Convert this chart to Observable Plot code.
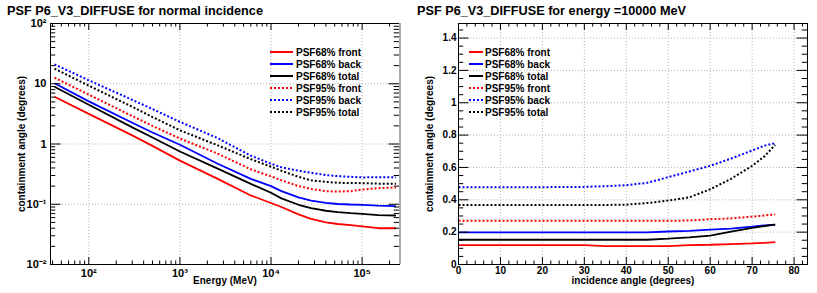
<!DOCTYPE html>
<html><head><meta charset="utf-8">
<script src="https://cdn.jsdelivr.net/npm/d3@7"></script>
<script src="https://cdn.jsdelivr.net/npm/@observablehq/plot@0.6"></script>
<style>
body{margin:0;background:#fff}
#root{position:relative;width:817px;height:293px;overflow:hidden;background:#fff}
.panel{position:absolute;top:0}
#overlay{position:absolute;left:0;top:0;pointer-events:none}
</style></head><body><div id="root"></div>
<script>
// ---------------- data ----------------
const seriesNames = ["PSF68% front","PSF68% back","PSF68% total","PSF95% front","PSF95% back","PSF95% total"];

// Left panel: containment angle vs energy (normal incidence)
const energyMeV = [42, 100, 300, 500, 1000, 2600, 6000, 10000, 13000, 20000, 27500, 40000, 54000, 75000, 100000, 150000, 235000];
const e68front = [6.1, 3.16, 1.39, 0.93, 0.53, 0.264, 0.14, 0.105, 0.09, 0.068, 0.057, 0.050, 0.047, 0.045, 0.043, 0.040, 0.040];
const e68back  = [10.2, 5.1, 2.25, 1.55, 0.97, 0.47, 0.264, 0.2, 0.165, 0.13, 0.115, 0.105, 0.101, 0.099, 0.098, 0.095, 0.093];
const e68total = [8.9, 4.47, 1.89, 1.28, 0.75, 0.39, 0.218, 0.155, 0.125, 0.098, 0.086, 0.078, 0.074, 0.071, 0.069, 0.066, 0.065];
const e95front = [12.6, 6.6, 2.9, 2.0, 1.23, 0.69, 0.38, 0.29, 0.25, 0.2, 0.18, 0.165, 0.162, 0.165, 0.175, 0.185, 0.19];
const e95back  = [21, 11.4, 5.4, 3.8, 2.33, 1.25, 0.64, 0.47, 0.41, 0.36, 0.333, 0.305, 0.293, 0.285, 0.279, 0.28, 0.28];
const e95total = [17.8, 9.3, 4.15, 2.8, 1.69, 0.95, 0.56, 0.42, 0.36, 0.285, 0.25, 0.235, 0.227, 0.225, 0.224, 0.22, 0.218];

// Right panel: containment angle vs incidence angle (E = 10000 MeV)
const incAngle = [0, 10, 20, 30, 35, 40, 45, 50, 55, 60, 65, 70, 73, 75.5];
const a68front = [0.12, 0.12, 0.12, 0.12, 0.113, 0.113, 0.113, 0.113, 0.12, 0.122, 0.126, 0.13, 0.134, 0.138];
const a68back  = [0.198, 0.198, 0.198, 0.198, 0.198, 0.198, 0.198, 0.204, 0.208, 0.215, 0.222, 0.234, 0.242, 0.247];
const a68total = [0.153, 0.153, 0.153, 0.153, 0.153, 0.153, 0.153, 0.16, 0.168, 0.179, 0.203, 0.226, 0.238, 0.247];
const a95front = [0.27, 0.27, 0.27, 0.27, 0.27, 0.27, 0.27, 0.27, 0.272, 0.28, 0.285, 0.296, 0.303, 0.31];
const a95back  = [0.478, 0.478, 0.478, 0.48, 0.484, 0.49, 0.505, 0.54, 0.575, 0.61, 0.655, 0.705, 0.735, 0.75];
const a95total = [0.368, 0.368, 0.368, 0.368, 0.368, 0.37, 0.38, 0.395, 0.415, 0.465, 0.53, 0.61, 0.67, 0.74];

// axes
const energyDomain = [38, 257000];
const energyTicks = [100, 1000, 10000, 100000];
const energyTickLabels = ["10\u00B2", "10\u00B3", "10\u2074", "10\u2075"];
const psfDomain = [0.01, 100];
const psfTicks = [0.01, 0.1, 1, 10, 100];
const psfTickLabels = ["10\u207B\u00B2", "10\u207B\u00B9", "1", "10", "10\u00B2"];
const angleDomain = [0, 83.2];
const angleTicks = [0, 10, 20, 30, 40, 50, 60, 70, 80];
const angleTickLabels = ["0", "10", "20", "30", "40", "50", "60", "70", "80"];
const contDomain = [0, 1.49];
const contTicks = [0, 0.2, 0.4, 0.6, 0.8, 1, 1.2, 1.4];
const contTickLabels = ["0", "0.2", "0.4", "0.6", "0.8", "1", "1.2", "1.4"];

const titles = ["PSF P6_V3_DIFFUSE for normal incidence", "PSF P6_V3_DIFFUSE for energy =10000 MeV"];
const xTitles = ["Energy (MeV)", "incidence angle (degrees)"];
const yTitle = "containment angle (degrees)";

// ---------------- styles ----------------
const FONT = "'Liberation Sans', Arial, Helvetica, sans-serif";
const colors = ["#ff0000", "#0000ff", "#000000", "#ff0000", "#0000ff", "#000000"];
const dashes = [null, null, null, "2,2", "2,2", "2,2"];

function logMinor(lo, hi) {
  const out = [];
  for (let p = Math.floor(Math.log10(lo)); p <= Math.ceil(Math.log10(hi)); p++)
    for (let k = 2; k <= 9; k++) { const v = k * 10 ** p; if (v > lo && v < hi) out.push(v); }
  return out;
}
function linMinor(lo, hi, step) {
  const out = [];
  for (let i = Math.ceil(lo / step); i * step < hi; i++) out.push(+(i * step).toFixed(6));
  return out;
}

function frameTicks(xMaj, xMin, yMaj, yMin, W, H, xLen, yLen) {
  const s = {stroke: "#000", strokeWidth: 1};
  return [
    Plot.tickX(xMaj, {x: d => d, insetTop: H - xLen, ...s}),
    Plot.tickX(xMaj, {x: d => d, insetBottom: H - xLen, ...s}),
    Plot.tickX(xMin, {x: d => d, insetTop: H - xLen / 2, ...s}),
    Plot.tickX(xMin, {x: d => d, insetBottom: H - xLen / 2, ...s}),
    Plot.tickY(yMaj, {y: d => d, insetRight: W - yLen, ...s}),
    Plot.tickY(yMaj, {y: d => d, insetLeft: W - yLen, ...s}),
    Plot.tickY(yMin, {y: d => d, insetRight: W - yLen / 2, ...s}),
    Plot.tickY(yMin, {y: d => d, insetLeft: W - yLen / 2, ...s})
  ];
}

function seriesLines(xs, ys) {
  return ys.map((vals, i) => Plot.line(xs.map((x, j) => ({x, y: vals[j]})), {
    x: "x", y: "y", stroke: colors[i], strokeWidth: i < 3 ? 1.8 : 2,
    strokeDasharray: dashes[i] || undefined, strokeLinecap: "butt", strokeLinejoin: "miter", curve: "linear"
  }));
}

const grid = {stroke: "#b4b4b4", strokeOpacity: 1, strokeDasharray: "1,2", strokeWidth: 1};
const txt = {fontSize: 10, fontWeight: "bold"};

// ---------------- left panel ----------------
const L = {width: 410, height: 293, ml: 50, mr: 11, mt: 23, mb: 29};
const LW = L.width - L.ml - L.mr, LH = L.height - L.mt - L.mb;
const eMinor = logMinor(energyDomain[0], energyDomain[1]);
const pMinor = logMinor(psfDomain[0], psfDomain[1]);
const eLab = new Map(energyTicks.map((d, i) => [d, energyTickLabels[i]]));
const pLab = new Map(psfTicks.map((d, i) => [d, psfTickLabels[i]]));

const left = Plot.plot({
  width: L.width, height: L.height,
  marginLeft: L.ml, marginRight: L.mr, marginTop: L.mt, marginBottom: L.mb,
  style: {fontFamily: FONT, fontWeight: "bold", fontSize: "10px", background: "transparent", overflow: "visible"},
  x: {type: "log", domain: energyDomain},
  y: {type: "log", domain: psfDomain},
  marks: [
    Plot.gridX(energyTicks, grid),
    Plot.gridY(psfTicks.slice(1, -1), grid),
    ...seriesLines(energyMeV, [e68front, e68back, e68total, e95front, e95back, e95total]),
    ...frameTicks(energyTicks, eMinor, psfTicks, pMinor, LW, LH, 7, 10.5),
    Plot.frame({stroke: "#000"}),
    Plot.ruleX([energyDomain[1]], {stroke: "#aaaaaa", strokeWidth: 2, dx: 0.5}),
    Plot.axisX(energyTicks, {tickSize: 0, tickPadding: 5, tickFormat: d => eLab.get(d), label: null, fontSize: 11, fontWeight: "bold"}),
    Plot.axisY(psfTicks, {tickSize: 0, tickPadding: 4, tickFormat: d => pLab.get(d), label: null, fontSize: 11, fontWeight: "bold"}),
    Plot.text([xTitles[0]], {text: d => d, frameAnchor: "bottom", dy: 19, ...txt}),
    Plot.text([yTitle], {text: d => d, frameAnchor: "left", textAnchor: "middle", rotate: -90, dx: -29, ...txt})
  ]
});

// ---------------- right panel ----------------
const R = {width: 407, height: 293, ml: 48, mr: 10, mt: 23, mb: 29};
const RW = R.width - R.ml - R.mr, RH = R.height - R.mt - R.mb;
const aLab = new Map(angleTicks.map((d, i) => [d, angleTickLabels[i]]));
const cLab = new Map(contTicks.map((d, i) => [d, contTickLabels[i]]));

const right = Plot.plot({
  width: R.width, height: R.height,
  marginLeft: R.ml, marginRight: R.mr, marginTop: R.mt, marginBottom: R.mb,
  style: {fontFamily: FONT, fontWeight: "bold", fontSize: "10px", background: "transparent", overflow: "visible"},
  x: {type: "linear", domain: angleDomain},
  y: {type: "linear", domain: contDomain},
  marks: [
    Plot.gridX(angleTicks.slice(1), grid),
    Plot.gridY(contTicks.slice(1), grid),
    ...seriesLines(incAngle, [a68front, a68back, a68total, a95front, a95back, a95total]),
    ...frameTicks(angleTicks, linMinor(angleDomain[0], angleDomain[1], 2).filter(v => v % 10 !== 0),
                  contTicks, linMinor(contDomain[0], contDomain[1], 0.05).filter(v => Math.abs(v / 0.2 - Math.round(v / 0.2)) > 1e-6),
                  RW, RH, 7, 10.5),
    Plot.frame({stroke: "#000"}),
    Plot.axisX(angleTicks, {tickSize: 0, tickPadding: 2, tickFormat: d => aLab.get(d), label: null, ...txt}),
    Plot.axisY(contTicks, {tickSize: 0, tickPadding: 2, tickFormat: d => cLab.get(d), label: null, ...txt}),
    Plot.text([xTitles[1]], {text: d => d, frameAnchor: "bottom", dy: 19, ...txt}),
    Plot.text([yTitle], {text: d => d, frameAnchor: "left", textAnchor: "middle", rotate: -90, dx: -29, ...txt})
  ]
});

const root = document.getElementById("root");
left.classList.add("panel"); left.style.left = "0px";
right.classList.add("panel"); right.style.left = "410px";
root.appendChild(left);
root.appendChild(right);

// ---------------- titles & legends overlay ----------------
const NS = "http://www.w3.org/2000/svg";
const ov = document.createElementNS(NS, "svg");
ov.setAttribute("id", "overlay");
ov.setAttribute("width", 817); ov.setAttribute("height", 293);
ov.setAttribute("font-family", FONT); ov.setAttribute("font-weight", "bold");
function el(tag, attrs, text) {
  const e = document.createElementNS(NS, tag);
  for (const k in attrs) if (attrs[k] != null) e.setAttribute(k, attrs[k]);
  if (text != null) e.textContent = text;
  ov.appendChild(e); return e;
}
el("text", {x: 7, y: 15, "font-size": 12.7}, titles[0]);
el("text", {x: 417, y: 15, "font-size": 12.7}, titles[1]);
const legends = [{x0: 270, x1: 293, tx: 296}, {x0: 469, x1: 483, tx: 485}];
const legendRows = [52, 64, 76, 88, 100, 112];
for (const lg of legends) {
  seriesNames.forEach((name, i) => {
    const y = legendRows[i];
    el("line", {x1: lg.x0, x2: lg.x1, y1: y, y2: y, stroke: colors[i], "stroke-width": 2, "stroke-dasharray": dashes[i]});
    el("text", {x: lg.tx, y: y, "font-size": 10, "dominant-baseline": "central"}, name);
  });
}
root.appendChild(ov);
</script></body></html>
